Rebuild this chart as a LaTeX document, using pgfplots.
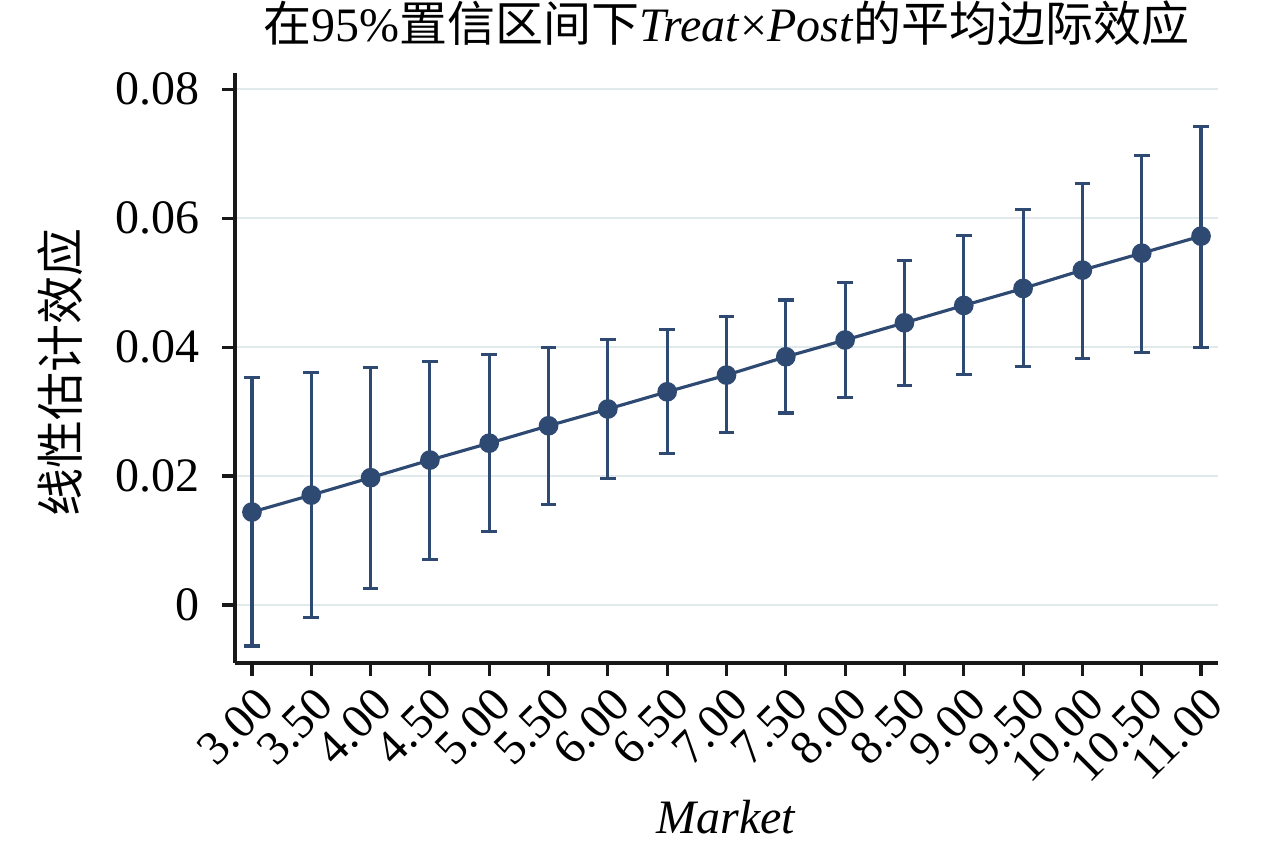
\documentclass[border=0pt]{standalone}
\usepackage{pgfplots}
\pgfplotsset{compat=1.18}
\usepackage{pgfplotstable}
\usepackage{fontspec}
\setmainfont{Liberation Serif}
\newfontfamily\cjk{Noto Sans CJK SC}
\definecolor{navy}{HTML}{2F4A72}
\definecolor{gridc}{HTML}{E1EAEA}
\pgfplotstableread{
x y hi lo
3.0 0.01442 0.03535 -0.00636
3.5 0.01705 0.03607 -0.00188
4.0 0.01975 0.03688 0.00260
4.5 0.02248 0.03780 0.00710
5.0 0.02510 0.03890 0.01147
5.5 0.02780 0.03995 0.01560
6.0 0.03040 0.04120 0.01964
6.5 0.03307 0.04274 0.02352
7.0 0.03566 0.04480 0.02677
7.5 0.03850 0.04730 0.02977
8.0 0.04110 0.05003 0.03220
8.5 0.04377 0.05344 0.03406
9.0 0.04646 0.05731 0.03581
9.5 0.04910 0.06134 0.03705
10.0 0.05194 0.06543 0.03829
10.5 0.05457 0.06977 0.03922
11.0 0.05721 0.07426 0.04000
}\datatable
\begin{document}
\fontsize{16pt}{19pt}\selectfont
\begin{tikzpicture}
\path[use as bounding box] (-78.33pt,-62.67pt) rectangle (348.33pt,221pt);
\begin{axis}[
  at={(0,0)}, anchor=south west,
  scale only axis, width=327.67pt, height=196.8pt,
  xmin=2.857, xmax=11.143, ymin=-0.00899, ymax=0.08257,
  scaled y ticks=false, scaled x ticks=false,
  axis x line*=bottom, axis y line*=left,
  axis line style={line width=1.15pt, black!90},
  tick align=outside, major tick length=4.3pt,
  tick style={line width=1.05pt, black!90},
  ytick={0,0.02,0.04,0.06,0.08},
  yticklabels={0,0.02,0.04,0.06,0.08},
  xtick={3,3.5,4,4.5,5,5.5,6,6.5,7,7.5,8,8.5,9,9.5,10,10.5,11},
  xticklabels={3.00,3.50,4.00,4.50,5.00,5.50,6.00,6.50,7.00,7.50,8.00,8.50,9.00,9.50,10.00,10.50,11.00},
  xticklabel style={xshift=8.3pt, yshift=-3pt, rotate=45, anchor=east, font=\fontsize{16pt}{19pt}\selectfont},
  yticklabel style={xshift=-2pt, font=\fontsize{16pt}{19pt}\selectfont},
  ymajorgrids, grid style={gridc, line width=0.75pt},
  clip=false,
]
\addplot[navy, line width=1.05pt, mark=*, mark size=2.75pt, mark options={fill=navy, solid},
  error bars/.cd, y dir=both, y explicit,
  error bar style={line width=1.05pt, navy},
  error mark options={rotate=90, mark size=2.6pt, line width=1.05pt, navy}]
  table[x=x, y=y, y error plus expr=\thisrow{hi}-\thisrow{y}, y error minus expr=\thisrow{y}-\thisrow{lo}] {\datatable};
\end{axis}
\node[anchor=base] at (163.83pt,207pt) {{\cjk 在}95\%{\cjk 置信区间下}\textit{Treat}×\textit{Post}{\cjk 的平均边际效应}};
\node[rotate=90, anchor=center] at (-58.3pt,97pt) {\cjk 线性估计效应};
\node[anchor=base] at (163.83pt,-56.7pt) {\textit{Market}};
\end{tikzpicture}
\end{document}
